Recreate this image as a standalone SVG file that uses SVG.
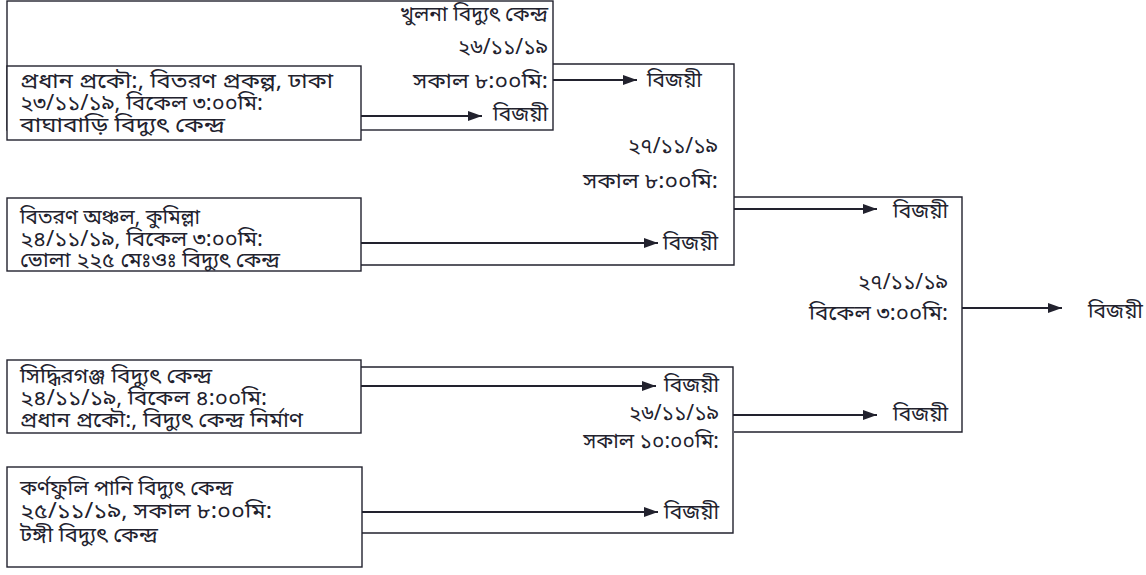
<svg xmlns="http://www.w3.org/2000/svg" width="1146" height="575" viewBox="0 0 1146 575">
<style>
.ln{stroke:#22222e;stroke-width:1.4;fill:none}
.bx{stroke:#22222e;stroke-width:1.4;fill:#fff}
.ar{stroke:#22222e;stroke-width:2;fill:none}
text{font-family:'Noto Sans Bengali','Noto Serif Bengali','Lohit Bengali','FreeSerif','Noto Sans',sans-serif;font-size:21px;fill:#22222e}
.r{text-anchor:end}
</style>
<defs>
<marker id="ah" viewBox="0 0 14 10" refX="14" refY="5" markerWidth="14" markerHeight="10" markerUnits="userSpaceOnUse" orient="auto">
<path d="M0,0 L14,5 L0,10 z" fill="#22222e"/>
</marker>
</defs>
<rect x="0" y="0" width="1146" height="575" fill="#fff"/>
<g id="match-khulna">
<rect class="bx" x="7" y="1" width="546" height="129"/>
<text class="r" x="548" y="21" textLength="148" lengthAdjust="spacingAndGlyphs">খুলনা বিদ্যুৎ কেন্দ্র</text>
<text class="r" x="548" y="54">২৬/১১/১৯</text>
<text class="r" x="548" y="88" textLength="135" lengthAdjust="spacingAndGlyphs">সকাল ৮:০০মি:</text>
<text class="r" x="548" y="121">বিজয়ী</text>
</g>
<g id="team-pradhan-dhaka">
<rect class="bx" x="7" y="66" width="354" height="74"/>
<text x="20" y="88"><tspan x="20" y="88" textLength="313" lengthAdjust="spacingAndGlyphs">প্রধান প্রকৌ:, বিতরণ প্রকল্প, ঢাকা</tspan><tspan x="20" y="110" textLength="243" lengthAdjust="spacingAndGlyphs">২৩/১১/১৯, বিকেল ৩:০০মি:</tspan><tspan x="20" y="132" textLength="205" lengthAdjust="spacingAndGlyphs">বাঘাবাড়ি বিদ্যুৎ কেন্দ্র</tspan></text>
</g>
<g id="match-semi1">
<path class="ln" d="M553,64 H734 V265 H361"/>
<text x="647" y="87">বিজয়ী</text>
<text class="r" x="718" y="153">২৭/১১/১৯</text>
<text class="r" x="718" y="188" textLength="135" lengthAdjust="spacingAndGlyphs">সকাল ৮:০০মি:</text>
<text class="r" x="718" y="250">বিজয়ী</text>
</g>
<g id="team-comilla">
<rect class="bx" x="7" y="198" width="354" height="73"/>
<text x="20" y="224"><tspan x="20" y="224" textLength="180" lengthAdjust="spacingAndGlyphs">বিতরণ অঞ্চল, কুমিল্লা</tspan><tspan x="20" y="246" textLength="243" lengthAdjust="spacingAndGlyphs">২৪/১১/১৯, বিকেল ৩:০০মি:</tspan><tspan x="20" y="267" textLength="260" lengthAdjust="spacingAndGlyphs">ভোলা ২২৫ মেঃওঃ বিদ্যুৎ কেন্দ্র</tspan></text>
</g>
<g id="match-final">
<path class="ln" d="M734,197 H962 V432 H734"/>
<text class="r" x="948" y="218">বিজয়ী</text>
<text class="r" x="948" y="289">২৭/১১/১৯</text>
<text class="r" x="948" y="320" textLength="139" lengthAdjust="spacingAndGlyphs">বিকেল ৩:০০মি:</text>
<text class="r" x="948" y="421">বিজয়ী</text>
</g>
<g id="champion">
<text x="1088" y="318">বিজয়ী</text>
</g>
<g id="match-semi2">
<path class="ln" d="M361,367 H733 V533 H361"/>
<text class="r" x="719" y="392"><tspan x="719" y="392">বিজয়ী</tspan><tspan x="719" y="420">২৬/১১/১৯</tspan><tspan x="719" y="448">সকাল ১০:০০মি:</tspan></text>
<text class="r" x="719" y="519">বিজয়ী</text>
</g>
<g id="team-siddhirganj">
<rect class="bx" x="7" y="360" width="354" height="73"/>
<text x="20" y="383"><tspan x="20" y="383" textLength="192" lengthAdjust="spacingAndGlyphs">সিদ্ধিরগঞ্জ বিদ্যুৎ কেন্দ্র</tspan><tspan x="20" y="405" textLength="247" lengthAdjust="spacingAndGlyphs">২৪/১১/১৯, বিকেল ৪:০০মি:</tspan><tspan x="20" y="427" textLength="283" lengthAdjust="spacingAndGlyphs">প্রধান প্রকৌ:, বিদ্যুৎ কেন্দ্র নির্মাণ</tspan></text>
</g>
<g id="team-karnaphuli">
<rect class="bx" x="7" y="467" width="355" height="100"/>
<text x="20" y="495"><tspan x="20" y="495" textLength="213" lengthAdjust="spacingAndGlyphs">কর্ণফুলি পানি বিদ্যুৎ কেন্দ্র</tspan><tspan x="20" y="518" textLength="252" lengthAdjust="spacingAndGlyphs">২৫/১১/১৯, সকাল ৮:০০মি:</tspan><tspan x="20" y="542" textLength="138" lengthAdjust="spacingAndGlyphs">টঙ্গী বিদ্যুৎ কেন্দ্র</tspan></text>
</g>
<g id="connectors">
<line class="ar" x1="361" y1="116" x2="482" y2="116" marker-end="url(#ah)"/>
<line class="ar" x1="553" y1="80" x2="637" y2="80" marker-end="url(#ah)"/>
<line class="ar" x1="361" y1="243" x2="658" y2="243" marker-end="url(#ah)"/>
<line class="ar" x1="734" y1="209" x2="877" y2="209" marker-end="url(#ah)"/>
<line class="ar" x1="962" y1="308" x2="1062" y2="308" marker-end="url(#ah)"/>
<line class="ar" x1="733" y1="415" x2="877" y2="415" marker-end="url(#ah)"/>
<line class="ar" x1="361" y1="386" x2="656" y2="386" marker-end="url(#ah)"/>
<line class="ar" x1="362" y1="512" x2="658" y2="512" marker-end="url(#ah)"/>
</g>
</svg>
